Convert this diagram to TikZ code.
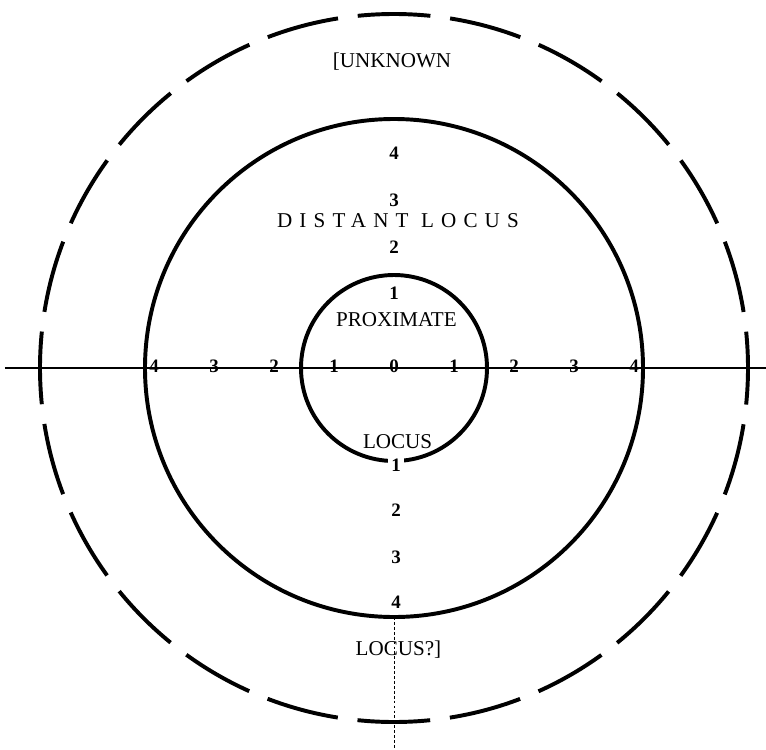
\documentclass[tikz,border=0pt]{standalone}
\usepackage{fontspec}
\setmainfont{Liberation Serif}
\usepackage{tikz}

\begin{document}
\begin{tikzpicture}[
    ring/.style={line width=2.8pt},
    word/.style={font=\fontsize{15}{18}\selectfont, inner sep=1pt},
    digit/.style={font=\fontsize{13.5}{15}\selectfont\bfseries, inner sep=1pt}
  ]

    % radii of the three loci
    \def\rProx{2.325}
    \def\rDist{6.225}
    \def\rUnkn{8.85}

    \useasboundingbox (-9.85,-9.525) rectangle (9.3,9.2);

    % horizontal scale
    \coordinate (axL) at (-9.725,0);
    \coordinate (axR) at (9.3,0);
    \draw[line width=0.8pt] (axL) -- (axR);

    % dotted line below the distant locus
    \coordinate (vtop) at (0,-\rDist);
    \coordinate (vbot) at (0,-9.525);
    \draw[line width=0.4pt, dash pattern=on 2pt off 1.5pt] (vtop) -- (vbot);

    % the three loci
    \draw[ring] (0,0) circle (\rProx);
    \draw[ring] (0,0) circle (\rDist);
    \draw[ring, dash pattern=on 1.82cm off 0.497cm, dash phase=0.91cm] (0,0) circle (\rUnkn);

    % numbers on the horizontal scale
    \node[digit] (zero) at (0,0.05) {0};
    \foreach \k in {1,...,4} {
        \node[digit] (l\k) at ({-1.5*\k},0.05) {\k};
        \node[digit] (r\k) at ({1.5*\k},0.05) {\k};
    }

    % numbers on the vertical scale
    \foreach \k/\y in {1/1.875, 2/3.025, 3/4.2, 4/5.375}
        \node[digit] (t\k) at (0,\y) {\k};
    \foreach \k/\y in {2/-3.55, 3/-4.725, 4/-5.85}
        \node[digit] (b\k) at (0.05,\y) {\k};
    \node[digit, fill=white, inner xsep=2pt] (b1) at (0.05,-2.425) {1};

    % names of the loci
    \node[word] (unknown) at (-0.05,7.65) {[UNKNOWN};
    \node[word, font=\fontsize{15}{18}\selectfont\addfontfeatures{LetterSpace=34}] (distant) at (0.1,3.675) {DISTANT LOCUS};
    \node[word] (proximate) at (0.06,1.2) {PROXIMATE};
    \node[word] (locus) at (0.09,-1.85) {LOCUS};
    \node[word] (locusq) at (0.11,-7.05) {LOCUS?]};

\end{tikzpicture}
\end{document}
